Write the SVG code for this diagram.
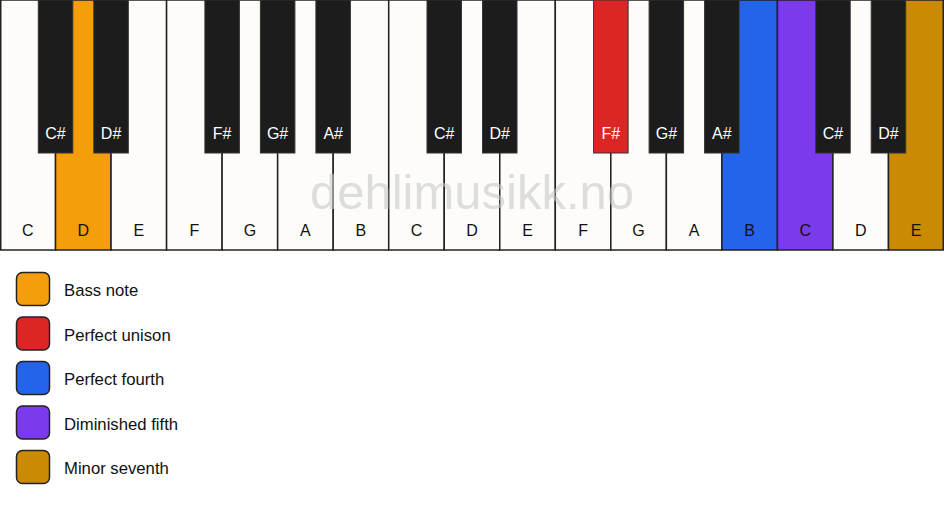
<svg xmlns="http://www.w3.org/2000/svg" width="944" height="506" viewBox="0 0 944 506">
<style>
.w{fill:#fdfcf9;stroke:#222;stroke-width:1.5}
.b{fill:#1c1c1c;stroke:#333;stroke-width:1}
.wl{font-family:"Liberation Sans",Arial,sans-serif;font-size:16px;fill:#111;text-anchor:middle}
.bl{font-family:"Liberation Sans",Arial,sans-serif;font-size:16px;fill:#fff;text-anchor:middle}
.sw{stroke:#222;stroke-width:1.5}
.lt{font-family:"Liberation Sans",Arial,sans-serif;font-size:16.7px;fill:#111}
.wm{font-family:"Liberation Sans",Arial,sans-serif;font-size:49px;fill:#c8c8c8;fill-opacity:0.6;text-anchor:middle}
</style>
<rect width="944" height="506" fill="#ffffff"/>
<g id="white-keys">
<g id="w0"><rect class="w" x="0.75" y="0" width="54.78" height="250"/><text class="wl" x="27.8" y="236">C</text></g>
<g id="w1"><rect class="w" x="55.53" y="0" width="55.53" height="250" style="fill:#f59e0b"/><text class="wl" x="83.3" y="236">D</text></g>
<g id="w2"><rect class="w" x="111.06" y="0" width="55.53" height="250"/><text class="wl" x="138.8" y="236">E</text></g>
<g id="w3"><rect class="w" x="166.59" y="0" width="55.53" height="250"/><text class="wl" x="194.4" y="236">F</text></g>
<g id="w4"><rect class="w" x="222.12" y="0" width="55.53" height="250"/><text class="wl" x="249.9" y="236">G</text></g>
<g id="w5"><rect class="w" x="277.65" y="0" width="55.53" height="250"/><text class="wl" x="305.4" y="236">A</text></g>
<g id="w6"><rect class="w" x="333.18" y="0" width="55.53" height="250"/><text class="wl" x="360.9" y="236">B</text></g>
<g id="w7"><rect class="w" x="388.71" y="0" width="55.53" height="250"/><text class="wl" x="416.5" y="236">C</text></g>
<g id="w8"><rect class="w" x="444.24" y="0" width="55.53" height="250"/><text class="wl" x="472" y="236">D</text></g>
<g id="w9"><rect class="w" x="499.76" y="0" width="55.53" height="250"/><text class="wl" x="527.5" y="236">E</text></g>
<g id="w10"><rect class="w" x="555.29" y="0" width="55.53" height="250"/><text class="wl" x="583.1" y="236">F</text></g>
<g id="w11"><rect class="w" x="610.82" y="0" width="55.53" height="250"/><text class="wl" x="638.6" y="236">G</text></g>
<g id="w12"><rect class="w" x="666.35" y="0" width="55.53" height="250"/><text class="wl" x="694.1" y="236">A</text></g>
<g id="w13"><rect class="w" x="721.88" y="0" width="55.53" height="250" style="fill:#2563eb"/><text class="wl" x="749.6" y="236">B</text></g>
<g id="w14"><rect class="w" x="777.41" y="0" width="55.53" height="250" style="fill:#7c3aed"/><text class="wl" x="805.2" y="236">C</text></g>
<g id="w15"><rect class="w" x="832.94" y="0" width="55.53" height="250"/><text class="wl" x="860.7" y="236">D</text></g>
<g id="w16"><rect class="w" x="888.47" y="0" width="54.78" height="250" style="fill:#ca8a04"/><text class="wl" x="916.2" y="236">E</text></g>
</g>
<text class="wm" x="472" y="209">dehlimusikk.no</text>
<g id="black-keys">
<g id="b1"><rect class="b" x="38.3" y="0" width="34.5" height="153"/><text class="bl" x="55.5" y="139">C#</text></g>
<g id="b2"><rect class="b" x="93.8" y="0" width="34.5" height="153"/><text class="bl" x="111.1" y="139">D#</text></g>
<g id="b4"><rect class="b" x="204.9" y="0" width="34.5" height="153"/><text class="bl" x="222.1" y="139">F#</text></g>
<g id="b5"><rect class="b" x="260.4" y="0" width="34.5" height="153"/><text class="bl" x="277.6" y="139">G#</text></g>
<g id="b6"><rect class="b" x="315.9" y="0" width="34.5" height="153"/><text class="bl" x="333.2" y="139">A#</text></g>
<g id="b8"><rect class="b" x="427" y="0" width="34.5" height="153"/><text class="bl" x="444.2" y="139">C#</text></g>
<g id="b9"><rect class="b" x="482.5" y="0" width="34.5" height="153"/><text class="bl" x="499.8" y="139">D#</text></g>
<g id="b11"><rect class="b" x="593.6" y="0" width="34.5" height="153" style="fill:#dc2626"/><text class="bl" x="610.8" y="139">F#</text></g>
<g id="b12"><rect class="b" x="649.1" y="0" width="34.5" height="153"/><text class="bl" x="666.4" y="139">G#</text></g>
<g id="b13"><rect class="b" x="704.6" y="0" width="34.5" height="153"/><text class="bl" x="721.9" y="139">A#</text></g>
<g id="b15"><rect class="b" x="815.7" y="0" width="34.5" height="153"/><text class="bl" x="832.9" y="139">C#</text></g>
<g id="b16"><rect class="b" x="871.2" y="0" width="34.5" height="153"/><text class="bl" x="888.5" y="139">D#</text></g>
</g>
<g id="legend">
<g id="leg-bass"><rect class="sw" x="16.5" y="272.5" width="33" height="33" rx="6" fill="#f59e0b"/><text class="lt" x="64" y="296">Bass note</text></g>
<g id="leg-unison"><rect class="sw" x="16.5" y="317" width="33" height="33" rx="6" fill="#dc2626"/><text class="lt" x="64" y="340.5">Perfect unison</text></g>
<g id="leg-fourth"><rect class="sw" x="16.5" y="361.5" width="33" height="33" rx="6" fill="#2563eb"/><text class="lt" x="64" y="385">Perfect fourth</text></g>
<g id="leg-dim5"><rect class="sw" x="16.5" y="406" width="33" height="33" rx="6" fill="#7c3aed"/><text class="lt" x="64" y="429.5">Diminished fifth</text></g>
<g id="leg-min7"><rect class="sw" x="16.5" y="450.5" width="33" height="33" rx="6" fill="#ca8a04"/><text class="lt" x="64" y="474">Minor seventh</text></g>
</g>
</svg>
